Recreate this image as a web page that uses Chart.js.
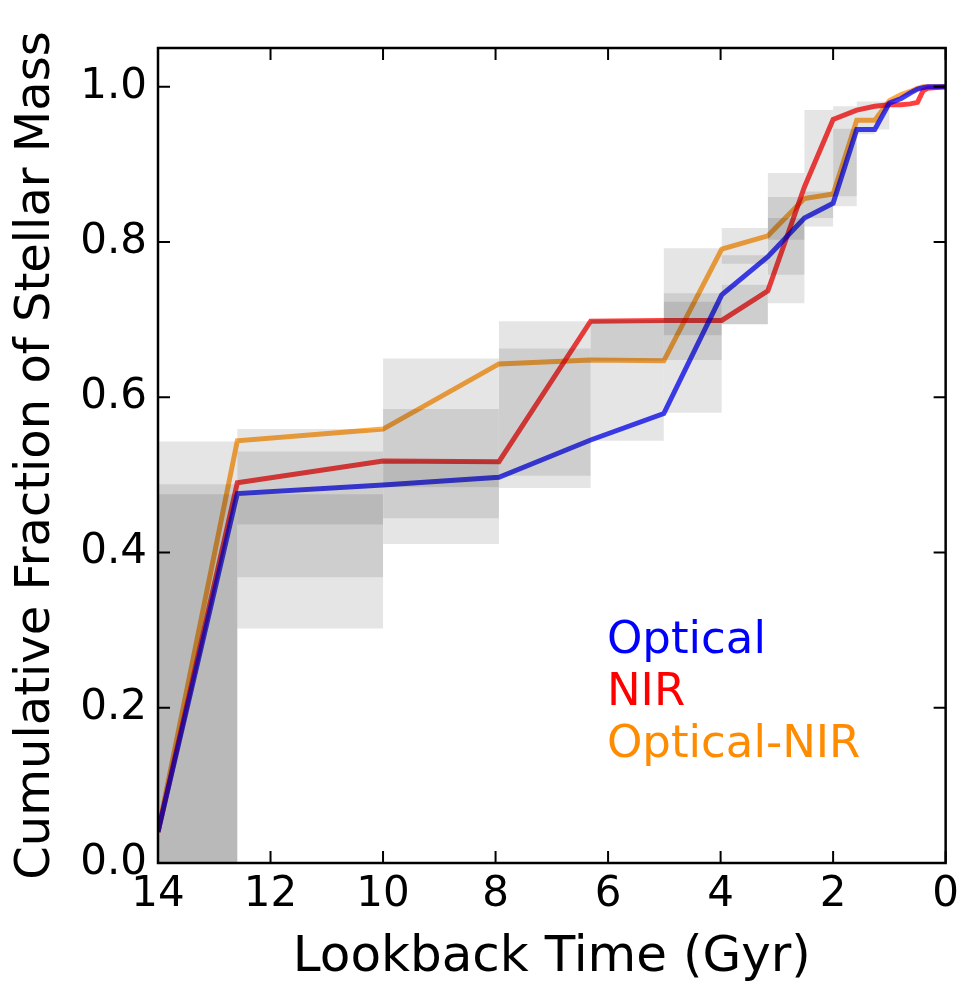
<!DOCTYPE html>
<html>
<head>
<title>Cumulative Stellar Mass</title>
<script src="https://cdn.jsdelivr.net/npm/chart.js"></script>
<style>
 html, body { margin: 0; padding: 0; background: #fff; }
 #wrap { width: 966px; height: 989px; }
</style>
</head>
<body>
<div id="wrap"><canvas id="sfh"></canvas></div>
<script>
 // lookback time of each point (Gyr) and cumulative mass fraction per fit
 const times      = [14, 12.59, 10, 7.94, 6.31, 5.01, 3.98, 3.16, 2.51, 2.0, 1.58, 1.26, 1.0, 0.79, 0.63, 0.5, 0.4, 0.32, 0];
 const optical    = [0.04, 0.476, 0.487, 0.497, 0.545, 0.579, 0.732, 0.781, 0.831, 0.850, 0.945, 0.945, 0.979, 0.985, 0.992, 0.997, 0.999, 1.0, 1.0];
 const nir        = [0.04, 0.490, 0.518, 0.517, 0.698, 0.699, 0.699, 0.737, 0.871, 0.958, 0.970, 0.975, 0.977, 0.977, 0.978, 0.980, 0.995, 0.998, 1.0];
 const opticalNir = [0.04, 0.544, 0.559, 0.643, 0.648, 0.647, 0.791, 0.808, 0.856, 0.862, 0.957, 0.957, 0.982, 0.990, 0.994, 0.998, 1.0, 1.0, 1.0];

 // uncertainty boxes: age bins and [low, high] for the three fits
 const binStart = [14, 12.59, 10, 7.94, 6.31, 5.01, 3.98, 3.16, 2.51, 2.0, 1.58, 1.26];
 const binEnd   = [12.59, 10, 7.94, 6.31, 5.01, 3.98, 3.16, 2.51, 2.0, 1.58, 1.26, 1.0];
 const boxA = [[0, 0.543], [0.302, 0.559], [0.411, 0.650], [0.483, 0.698], [0.544, 0.634], [0.580, 0.792],
               [0.694, 0.818], [0.721, 0.889], [0.820, 0.970], [0.846, 0.975], [0.939, 0.981], [0.945, 0.981]];
 const boxB = [[0, 0.488], [0.368, 0.530], [0.444, 0.585], [0.585, 0.663], [0.634, 0.700], [0.648, 0.734],
               [0.694, 0.745], [0.758, 0.858], [0.831, 0.865], [0.859, 0.946], null, null];
 const boxC = [[0, 0.475], [0.436, 0.475], [0.484, 0.519], [0.499, 0.585], [0.647, 0.700], [0.680, 0.723],
               [0.772, 0.783], [0.803, 0.831], null, null, null, null];

 const xTicks = [14, 12, 10, 8, 6, 4, 2, 0];
 const yTicks = [0, 0.2, 0.4, 0.6, 0.8, 1.0];
 const legendNames  = ['Optical', 'NIR', 'Optical-NIR'];
 const legendColors = ['#0000ff', '#ff0000', '#ff8c00'];

 const FONT = "'DejaVu Sans', sans-serif";

 // one dataset per box, drawn as a filled rectangle shape
 const boxSets = [];
 [boxA, boxB, boxC].forEach(layer => {
  layer.forEach((b, i) => {
   if (!b) return;
   boxSets.push({
    data: [
     {x: binStart[i], y: b[0]}, {x: binStart[i], y: b[1]},
     {x: binEnd[i], y: b[1]}, {x: binEnd[i], y: b[0]}
    ],
    fill: 'shape',
    backgroundColor: 'rgba(0,0,0,0.1)',
    borderColor: 'transparent',
    borderWidth: 0,
    pointRadius: 0,
    tension: 0
   });
  });
 });

 function lineSet(values, color) {
  return {
   data: times.map((t, i) => ({x: t, y: values[i]})),
   borderColor: color,
   borderWidth: 5,
   pointRadius: 0,
   fill: false,
   tension: 0
  };
 }

 // frame with inward ticks on all four sides, plus the text legend
 const framePlugin = {
  id: 'frame',
  afterDraw(chart) {
   const {ctx, chartArea: a, scales: {x, y}} = chart;
   ctx.save();
   ctx.strokeStyle = '#000';
   ctx.lineWidth = 2;
   xTicks.forEach(v => {
    const px = x.getPixelForValue(v);
    ctx.beginPath();
    ctx.moveTo(px, a.bottom); ctx.lineTo(px, a.bottom - 12);
    ctx.moveTo(px, a.top); ctx.lineTo(px, a.top + 12);
    ctx.stroke();
   });
   yTicks.forEach(v => {
    const py = y.getPixelForValue(v);
    ctx.beginPath();
    ctx.moveTo(a.left, py); ctx.lineTo(a.left + 12, py);
    ctx.moveTo(a.right, py); ctx.lineTo(a.right - 12, py);
    ctx.stroke();
   });
   ctx.lineWidth = 2.5;
   ctx.strokeRect(a.left, a.top, a.right - a.left, a.bottom - a.top);

   // legend as coloured text
   ctx.font = '45px ' + FONT;
   ctx.textAlign = 'left';
   ctx.textBaseline = 'alphabetic';
   const lx = a.left + 0.57 * (a.right - a.left);
   const ly = a.top + 0.742 * (a.bottom - a.top);
   legendNames.forEach((name, i) => {
    ctx.fillStyle = legendColors[i];
    ctx.fillText(name, lx, ly + i * 52);
   });
   ctx.restore();
  }
 };

 new Chart(document.getElementById('sfh'), {
  type: 'line',
  data: {
   datasets: [
    ...boxSets,
    lineSet(optical, 'rgba(0,0,255,0.75)'),
    lineSet(nir, 'rgba(255,0,0,0.75)'),
    lineSet(opticalNir, 'rgba(255,140,0,0.75)')
   ]
  },
  options: {
   responsive: true,
   maintainAspectRatio: false,
   animation: false,
   layout: { padding: { left: 0, right: 18, top: 48, bottom: 0 } },
   plugins: { legend: { display: false }, tooltip: { enabled: false } },
   scales: {
    x: {
     type: 'linear',
     min: 0, max: 14,
     reverse: true,
     afterBuildTicks: s => { s.ticks = xTicks.map(v => ({value: v})); },
     afterFit: s => { s.height = 126; },
     grid: { display: false, drawTicks: false },
     border: { display: false },
     ticks: { color: '#000', font: { family: FONT, size: 42 }, padding: 7, maxRotation: 0 },
     title: { display: true, text: 'Lookback Time (Gyr)', color: '#000',
              font: { family: FONT, size: 50 }, padding: { top: 0, bottom: 1 } }
    },
    y: {
     min: 0, max: 1.05,
     afterBuildTicks: s => { s.ticks = yTicks.map(v => ({value: v})); },
     afterFit: s => { s.width = 158; },
     grid: { display: false, drawTicks: false },
     border: { display: false },
     ticks: { color: '#000', font: { family: FONT, size: 42 }, padding: 11,
              callback: v => v.toFixed(1) },
     title: { display: true, text: 'Cumulative Fraction of Stellar Mass', color: '#000',
              font: { family: FONT, size: 48 }, padding: { top: 8, bottom: 0 } }
    }
   }
  },
  plugins: [framePlugin]
 });
</script>
</body>
</html>
